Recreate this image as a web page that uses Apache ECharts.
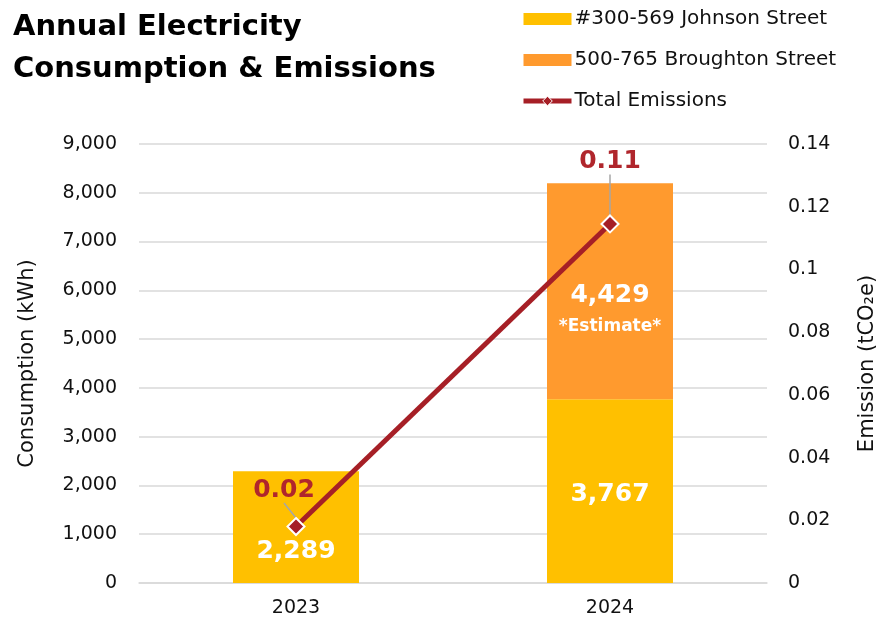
<!DOCTYPE html>
<html>
<head>
<meta charset="utf-8">
<script src="https://cdn.jsdelivr.net/npm/echarts@6/dist/echarts.min.js"></script>
<style>html,body{margin:0;padding:0;background:#fff}#c{width:878px;height:625px}</style>
</head>
<body>
<div id="c"></div>
<script>
var categories = ['2023', '2024'];
var johnson = [2289, 3767];
var broughton = [0, 4429];
var emissions = [0.018, 0.1145];
var seriesNames = ['#300-569 Johnson Street', '500-765 Broughton Street', 'Total Emissions'];

var FONT = 'DejaVu Sans';
var chart = echarts.init(document.getElementById('c'));
chart.setOption({
  animation: false,
  textStyle: { fontFamily: FONT },
  title: {
    text: 'Annual Electricity\nConsumption & Emissions',
    left: 8, top: 1,
    textStyle: { fontFamily: FONT, fontSize: 29, fontWeight: 'bold', color: '#000', lineHeight: 42 }
  },
  legend: {
    orient: 'vertical', left: 516, top: 4,
    itemWidth: 48, itemHeight: 12, itemGap: 21,
    textStyle: { fontFamily: FONT, fontSize: 20, color: '#111', padding: [0, 0, 0, -2] },
    data: [
      { name: seriesNames[0], icon: 'rect' },
      { name: seriesNames[1], icon: 'rect' },
      { name: seriesNames[2], lineStyle: { width: 5 }, itemStyle: { borderWidth: 1 } }
    ]
  },
  grid: { left: 139, right: 111, top: 144, bottom: 42, outerBoundsMode: 'none', containLabel: false },
  xAxis: {
    type: 'category', data: categories,
    axisLine: { lineStyle: { color: '#d9d9d9', width: 1.5 } },
    axisTick: { show: false },
    axisLabel: { fontFamily: FONT, fontSize: 19, color: '#111', margin: 16 }
  },
  yAxis: [
    {
      type: 'value', min: 0, max: 9000, interval: 1000,
      name: 'Consumption (kWh)', nameLocation: 'middle', nameGap: 101,
      nameTextStyle: { fontFamily: FONT, fontSize: 21, color: '#111' },
      axisLabel: { fontFamily: FONT, fontSize: 19, color: '#111', margin: 22,
        formatter: function (v) { return v.toLocaleString('en-US'); } },
      splitLine: { lineStyle: { color: '#d9d9d9', width: 1.5 } },
      axisLine: { show: false }, axisTick: { show: false }
    },
    {
      type: 'value', min: 0, max: 0.14, interval: 0.02,
      name: 'Emission (tCO\u2082e)', nameLocation: 'middle', nameGap: 90, nameRotate: 90,
      nameTextStyle: { fontFamily: FONT, fontSize: 21, color: '#111' },
      axisLabel: { fontFamily: FONT, fontSize: 19, color: '#111', margin: 21,
        formatter: function (v) { return String(Math.round(v * 100) / 100); } },
      splitLine: { show: false },
      axisLine: { show: false }, axisTick: { show: false }
    }
  ],
  series: [
    {
      name: seriesNames[0], type: 'bar', stack: 'c', data: johnson, barWidth: 126,
      itemStyle: { color: '#FFC000' },
      label: {
        show: true, position: 'inside', color: '#fff', fontFamily: FONT, fontSize: 25, fontWeight: 'bold',
        formatter: function (p) { return p.value.toLocaleString('en-US'); }
      },
      labelLayout: function (p) { return p.dataIndex === 0 ? { dy: 24 } : { dy: 3 }; }
    },
    {
      name: seriesNames[1], type: 'bar', stack: 'c', data: broughton, barWidth: 126,
      itemStyle: { color: '#FF9A2E' },
      label: {
        show: true, position: 'inside', color: '#fff', fontFamily: FONT,
        formatter: function (p) { return p.value ? '{a|' + p.value.toLocaleString('en-US') + '}\n{b|*Estimate*}' : ''; },
        rich: {
          a: { fontSize: 25, fontWeight: 'bold', color: '#fff', lineHeight: 36, fontFamily: FONT },
          b: { fontSize: 17, fontWeight: 'bold', color: '#fff', lineHeight: 26, fontFamily: FONT }
        }
      },
      labelLayout: { dy: 17 }
    },
    {
      name: seriesNames[2], type: 'line', yAxisIndex: 1, data: emissions,
      symbol: 'diamond', symbolSize: 17,
      lineStyle: { color: '#A61F26', width: 5 },
      itemStyle: { color: '#A61F26', borderColor: '#fff', borderWidth: 2 },
      z: 5,
      label: {
        show: true, position: 'top', distance: 8, color: '#B0262C', fontFamily: FONT, fontSize: 25, fontWeight: 'bold',
        formatter: function (p) { return p.value.toFixed(2); }
      },
      labelLayout: function (p) { return p.dataIndex === 0 ? { dx: -12, dy: -6 } : { dy: -32 }; },
      labelLine: { show: true, lineStyle: { color: '#a6a6a6', width: 1.5 } }
    }
  ]
});
</script>
</body>
</html>
